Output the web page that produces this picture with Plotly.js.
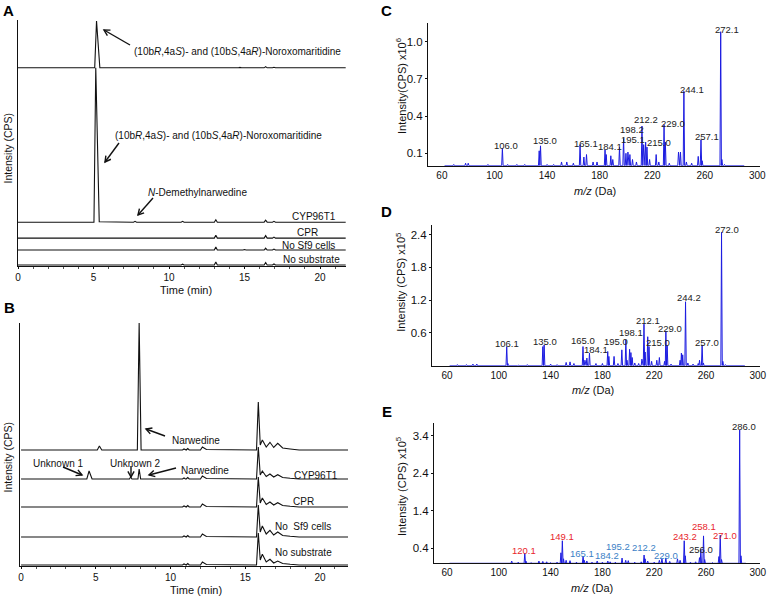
<!DOCTYPE html>
<html><head><meta charset="utf-8">
<script src="https://cdn.plot.ly/plotly-3.0.1.min.js"></script>
<style>html,body{margin:0;padding:0;background:#fff}#chart{width:767px;height:598px}</style>
</head><body><div id="chart"></div>
<script>
// ---------- Panel A: retention time (min) / relative intensity ----------
const A_std_t   = [0, 5.08, 5.2, 5.42, 14.6, 14.7, 14.8, 16.3, 16.4, 16.5, 16.85, 16.95, 17.05, 21.7];
const A_std_y   = [0, 0, 47, 0, 0, 0.4, 0, 0, 1.2, 0, 0, 0.5, 0, 0];
const A_cyp_t   = [0, 5.03, 5.15, 5.38, 7.65, 7.75, 7.85, 10.8, 10.9, 11.0, 13.0, 13.1, 13.2, 14.9, 15.0, 15.1, 16.3, 16.4, 16.5, 16.85, 16.95, 17.05, 21.7];
const A_cyp_y   = [0, 0, 155, 0.5, 0, 0.8, 0, 0, 0.8, 0, 0, 2.5, 0, 0, 0.4, 0, 0, 2, 0, 0, 0.8, 0, 0];
const A_cpr_t   = [0, 7.0, 7.1, 7.2, 10.8, 10.9, 11.0, 13.0, 13.1, 13.2, 16.3, 16.4, 16.5, 16.85, 16.95, 17.05, 21.7];
const A_cpr_y   = [0, 0, 0.4, 0, 0, 0.6, 0, 0, 3, 0, 0, 2.5, 0, 0, 1, 0, 0];
const A_nosf9_t = [0, 7.65, 7.75, 7.85, 13.0, 13.1, 13.2, 14.9, 15.0, 15.1, 16.3, 16.4, 16.5, 16.85, 16.95, 17.05, 21.7];
const A_nosf9_y = [0, 0, 0.5, 0, 0, 3, 0, 0, 0.5, 0, 0, 2, 0, 0, 1, 0, 0];
const A_nosub_t = [0, 10.8, 10.9, 11.0, 13.0, 13.1, 13.2, 14.9, 15.0, 15.1, 16.3, 16.4, 16.5, 16.85, 16.95, 17.05, 21.7];
const A_nosub_y = [0, 0, 0.8, 0, 0, 3, 0, 0, 0.5, 0, 0, 2.5, 0, 0, 1, 0, 0];

// ---------- Panel B ----------
const B_std_t   = [0, 5.1, 5.24, 5.4, 7.78, 7.9, 8.03, 10.8, 10.9, 11.0, 11.05, 11.15, 11.25, 12.0, 12.13, 12.4, 15.75, 15.87, 16.0, 16.14, 16.4, 16.65, 16.9, 17.17, 17.5, 18.0, 18.6, 21.87];
const B_std_y   = [0, 0, 4, 0, 0, 127, 0, 0, 1, 0, 0, 1.5, 0, 0, 3, 0.5, 0, 48, 5, 10, 3, 7.7, 2.5, 6.7, 2, 1, 0, 0];
const B_cyp_t   = [0, 4.4, 4.55, 4.75, 7.25, 7.33, 7.42, 7.82, 7.9, 8.0, 10.8, 10.9, 11.0, 11.05, 11.15, 11.25, 12.0, 12.13, 12.4, 15.75, 15.87, 16.0, 16.14, 16.4, 16.65, 16.9, 17.17, 17.5, 18.0, 18.6, 21.87];
const B_cyp_y   = [0, 0, 8, 0, 0, 2, 0, 0, 10, 0, 0, 1, 0, 0, 1.5, 0, 0, 3, 0.5, 0, 32, 4, 8, 2.5, 5, 2, 4.3, 1.5, 0.7, 0, 0];
const B_cpr_t   = [0, 10.8, 10.9, 11.0, 11.05, 11.15, 11.25, 12.0, 12.13, 12.4, 15.75, 15.87, 16.0, 16.14, 16.4, 16.65, 16.9, 17.17, 17.5, 18.0, 18.6, 21.87];
const B_cpr_y   = [0, 0, 1, 0, 0, 1.5, 0, 0, 3, 0.5, 0, 30, 4, 9, 2.5, 5, 2, 4.3, 1.5, 0.7, 0, 0];
const B_nosf9_t = [0, 10.8, 10.9, 11.0, 11.05, 11.15, 11.25, 12.0, 12.13, 12.4, 15.75, 15.87, 16.0, 16.14, 16.4, 16.65, 16.9, 17.17, 17.5, 18.0, 18.6, 21.87];
const B_nosf9_y = [0, 0, 1, 0, 0, 1.5, 0, 0, 3, 0.5, 0, 32, 5, 11, 3, 6.7, 2, 5, 1.5, 0.7, 0, 0];
const B_nosub_t = [0, 10.8, 10.9, 11.0, 11.05, 11.15, 11.25, 12.0, 12.13, 12.4, 15.75, 15.87, 16.0, 16.14, 16.4, 16.65, 16.9, 17.17, 17.5, 18.0, 18.6, 21.87];
const B_nosub_y = [0, 0, 1, 0, 0, 1.5, 0, 0, 3, 0.5, 0, 32, 5, 10.7, 3, 5.7, 2, 4, 1.5, 0.7, 0, 0];

// ---------- Panel C: MS/MS (x10^6) ----------
const C_mz  = [69, 78, 80, 95, 106.0, 110, 117, 123, 134, 135.0, 140, 145, 151, 155, 160, 165.1, 168, 170, 175, 178, 184.1, 185, 188.5, 190, 195.1, 198.2, 200, 201.5, 203, 205, 208, 212.2, 213.5, 215.0, 216, 218, 223, 225, 229.0, 230, 233, 240, 241.5, 244.1, 246, 250, 255, 257.1, 258, 272.1, 273, 275];
const C_int = [0.01, 0.02, 0.02, 0.01, 0.14, 0.01, 0.01, 0.01, 0.12, 0.16, 0.01, 0.01, 0.03, 0.03, 0.02, 0.17, 0.07, 0.09, 0.03, 0.03, 0.13, 0.09, 0.08, 0.05, 0.15, 0.22, 0.1, 0.11, 0.09, 0.05, 0.03, 0.32, 0.17, 0.19, 0.15, 0.05, 0.09, 0.03, 0.33, 0.19, 0.02, 0.11, 0.11, 0.60, 0.03, 0.02, 0.075, 0.21, 0.04, 1.08, 0.05, 0.01];
const C_labels = ['106.0', '135.0', '165.1', '184.1', '195.1', '198.2', '212.2', '215.0', '229.0', '244.1', '257.1', '272.1'];

// ---------- Panel D (x10^5) ----------
const D_mz  = [68, 75, 80, 83, 95, 106.1, 107, 115, 122, 134, 135.0, 140, 145, 152, 155, 158, 165.0, 166.5, 168, 170, 175, 180, 184.1, 185, 189, 192, 195.0, 198.1, 199, 201, 202, 203, 205, 208, 210.5, 212.1, 213, 215.0, 216, 218, 222, 224, 228, 229.0, 230, 233, 240, 241, 242, 244.2, 246, 250, 254, 255, 257.0, 258, 272.0, 273, 275];
const D_int = [0.02, 0.02, 0.03, 0.03, 0.01, 0.35, 0.04, 0.01, 0.02, 0.35, 0.38, 0.03, 0.02, 0.06, 0.07, 0.04, 0.35, 0.1, 0.14, 0.23, 0.04, 0.04, 0.26, 0.17, 0.17, 0.04, 0.29, 0.47, 0.1, 0.3, 0.24, 0.15, 0.05, 0.04, 0.12, 0.76, 0.25, 0.53, 0.35, 0.08, 0.1, 0.15, 0.08, 0.63, 0.37, 0.03, 0.1, 0.23, 0.2, 1.17, 0.05, 0.03, 0.04, 0.1, 0.38, 0.05, 2.44, 0.08, 0.02];
const D_labels = ['106.1', '135.0', '165.0', '184.1', '195.0', '198.1', '212.1', '215.0', '229.0', '244.2', '257.0', '272.0'];

// ---------- Panel E (x10^5) ----------
const E_mz  = [70, 85, 100, 110, 115, 120.1, 121, 125, 131, 134, 137, 140, 145, 148, 149.1, 150, 152, 155, 160, 165.1, 166, 168, 172, 176, 180, 184.2, 186, 190, 195.2, 198, 200, 205, 210, 212.2, 213, 215, 220, 224, 226, 229.0, 232, 238, 240, 243.2, 244, 248, 252, 255, 256.0, 258.1, 259, 265, 270, 271.0, 272, 286.0, 287, 290];
const E_int = [0.01, 0.02, 0.02, 0.06, 0.03, 0.27, 0.06, 0.02, 0.06, 0.05, 0.04, 0.02, 0.03, 0.28, 0.6, 0.12, 0.08, 0.07, 0.03, 0.19, 0.08, 0.06, 0.03, 0.06, 0.03, 0.06, 0.04, 0.03, 0.14, 0.08, 0.07, 0.03, 0.04, 0.22, 0.12, 0.06, 0.03, 0.08, 0.12, 0.14, 0.05, 0.12, 0.08, 0.6, 0.2, 0.03, 0.04, 0.15, 0.37, 0.73, 0.1, 0.02, 0.18, 0.75, 0.1, 3.55, 0.2, 0.02];
const E_labels = ['120.1', '149.1', '165.1', '184.2', '195.2', '212.2', '229.0', '243.2', '256.0', '258.1', '271.0', '286.0'];
const E_label_group = ['frag', 'frag', 'shared', 'shared', 'shared', 'shared', 'shared', 'frag', 'other', 'frag', 'frag', 'other'];

// shared tick labels
const mzTicks = [60, 100, 140, 180, 220, 260, 300];
const timeTicks = [0, 5, 10, 15, 20];

// ================= drawing =================
const W = 767, H = 598;
const FONT = 'Liberation Sans, Arial, Helvetica, sans-serif';
const px = x => x / W;
const py = y => 1 - y / H;
const BLK = '#111111';
const SPEC = '#1c1ce0';

function chrom(t, y, off, xa, ya) {
  return {x: t, y: y.map(v => v + off), xaxis: xa, yaxis: ya, type: 'scatter', mode: 'lines',
          line: {color: BLK, width: 1.1}, hoverinfo: 'skip', showlegend: false};
}
function spectrum(mz, inten, xa, ya) {
  const idx = mz.map((m, i) => i).sort((a, b) => mz[a] - mz[b]);
  const xs = [62], ys = [0];
  const hw = 0.55;
  idx.forEach(i => { xs.push(mz[i] - hw, mz[i], mz[i] + hw); ys.push(0, inten[i], 0); });
  xs.push(290); ys.push(0);
  return {x: xs, y: ys, xaxis: xa, yaxis: ya, type: 'scatter', mode: 'lines',
          line: {color: SPEC, width: 1}, hoverinfo: 'skip', showlegend: false};
}

const A_off = [199, 44, 28, 16, 1];
const B_off = [116, 87, 59, 29, 1];

const data = [
  chrom(A_std_t, A_std_y, A_off[0], 'x', 'y'),
  chrom(A_cyp_t, A_cyp_y, A_off[1], 'x', 'y'),
  chrom(A_cpr_t, A_cpr_y, A_off[2], 'x', 'y'),
  chrom(A_nosf9_t, A_nosf9_y, A_off[3], 'x', 'y'),
  chrom(A_nosub_t, A_nosub_y, A_off[4], 'x', 'y'),
  chrom(B_std_t, B_std_y, B_off[0], 'x2', 'y2'),
  chrom(B_cyp_t, B_cyp_y, B_off[1], 'x2', 'y2'),
  chrom(B_cpr_t, B_cpr_y, B_off[2], 'x2', 'y2'),
  chrom(B_nosf9_t, B_nosf9_y, B_off[3], 'x2', 'y2'),
  chrom(B_nosub_t, B_nosub_y, B_off[4], 'x2', 'y2'),
  spectrum(C_mz, C_int, 'x3', 'y3'),
  spectrum(D_mz, D_int, 'x4', 'y4'),
  spectrum(E_mz, E_int, 'x5', 'y5')
];

const baseAx = {showgrid: false, zeroline: false, showline: true, linecolor: BLK, linewidth: 1,
                ticks: 'outside', tickcolor: BLK, ticklen: 2, fixedrange: true, ticklabeloverflow: 'allow',
                tickfont: {family: FONT, size: 10, color: BLK}};
function chromX(dom, rng, anchor) {
  return Object.assign({}, baseAx, {domain: dom, range: rng, anchor: anchor,
    tickmode: 'array', tickvals: timeTicks,
    minor: {tickmode: 'linear', tick0: 0, dtick: 1, ticks: 'outside', ticklen: 2, tickcolor: '#555'}});
}
function chromY(dom, rng, anchor) {
  return Object.assign({}, baseAx, {domain: dom, range: rng, anchor: anchor, ticks: '', showticklabels: false});
}
function specX(dom, rng, anchor, vals) {
  return Object.assign({}, baseAx, {domain: dom, range: rng, anchor: anchor,
    tickmode: 'array', tickvals: vals, ticks: ''});
}
function specY(dom, rng, anchor, vals) {
  return Object.assign({}, baseAx, {domain: dom, range: rng, anchor: anchor, tickmode: 'array',
    tickvals: vals, ticktext: vals.map(v => v.toFixed(1)), ticklen: 2,
    tickfont: {family: FONT, size: 11.5, color: BLK}});
}

const ann = [];
const shapes = [];
function txt(t, x, y, opts) {
  ann.push(Object.assign({xref: 'paper', yref: 'paper', x: px(x), y: py(y), text: t, showarrow: false,
    xanchor: 'center', yanchor: 'middle', font: {family: FONT, size: 10, color: BLK}}, opts || {}));
}
// arrow drawn as a line plus an open V head (pixel geometry converted to paper units)
function arrow(hx, hy, tx, ty) {
  const dx = tx - hx, dy = ty - hy, L = Math.hypot(dx, dy);
  const ux = dx / L, uy = dy / L, arm = 6.5, a = 0.5;
  const r1 = [ux * Math.cos(a) - uy * Math.sin(a), ux * Math.sin(a) + uy * Math.cos(a)];
  const r2 = [ux * Math.cos(-a) - uy * Math.sin(-a), ux * Math.sin(-a) + uy * Math.cos(-a)];
  const p1 = [hx + arm * r1[0], hy + arm * r1[1]], p2 = [hx + arm * r2[0], hy + arm * r2[1]];
  shapes.push({type: 'line', xref: 'paper', yref: 'paper', x0: px(tx), y0: py(ty), x1: px(hx), y1: py(hy),
               line: {color: BLK, width: 1.4}});
  shapes.push({type: 'path', xref: 'paper', yref: 'paper',
               path: 'M' + px(p1[0]) + ',' + py(p1[1]) + ' L' + px(hx) + ',' + py(hy) + ' L' + px(p2[0]) + ',' + py(p2[1]),
               line: {color: BLK, width: 1.4}});
}

// panel letters
[['A', 8, 11], ['B', 9, 307], ['C', 387, 11], ['D', 387, 211], ['E', 387, 411]].forEach(p =>
  txt('<b>' + p[0] + '</b>', p[1], p[2], {font: {family: FONT, size: 15, color: '#000'}}));

// panel A texts
txt('(10b<i>R</i>,4a<i>S</i>)- and (10b<i>S</i>,4a<i>R</i>)-Noroxomaritidine', 237.5, 51.7);
txt('(10b<i>R</i>,4a<i>S</i>)- and (10b<i>S</i>,4a<i>R</i>)-Noroxomaritidine', 218, 136);
txt('<i>N</i>-Demethylnarwedine', 197.5, 192.7);
txt('CYP96T1', 313.7, 216.7);
txt('CPR', 307, 232.3);
txt('No Sf9 cells', 308, 245.3);
txt('No substrate', 311, 259);
arrow(104, 30, 130, 45);
arrow(105, 162, 119, 143);
arrow(138, 215, 153, 198);
txt('Time (min)', 186, 289.5, {font: {family: FONT, size: 11, color: BLK}});
txt('Intensity (CPS)', 7.5, 148, {textangle: -90, font: {family: FONT, size: 10.5, color: BLK}});

// panel B texts
txt('Narwedine', 196, 440.7);
txt('Unknown 1', 57.5, 463.3);
txt('Unknown 2', 134.5, 463.3);
txt('Narwedine', 205, 470);
txt('CYP96T1', 316, 475.7);
txt('CPR', 303.7, 501);
txt('No\u00a0\u00a0Sf9 cells', 303, 526.7);
txt('No substrate', 303, 552.7);
arrow(146, 429, 165, 436);
arrow(82, 475, 63, 467);
arrow(131, 477, 131, 466);
arrow(149, 475, 176, 468);
txt('Time (min)', 196, 590, {font: {family: FONT, size: 11, color: BLK}});
txt('Intensity (CPS)', 7.5, 457, {textangle: -90, font: {family: FONT, size: 10.5, color: BLK}});

// spectra axis titles
const mzTitle = '<i>m/z</i> (Da)';
txt(mzTitle, 595, 191, {font: {family: FONT, size: 11, color: BLK}});
txt(mzTitle, 593, 390, {font: {family: FONT, size: 11, color: BLK}});
txt(mzTitle, 592, 588, {font: {family: FONT, size: 11, color: BLK}});
txt('Intensity(CPS) x10<sup>6</sup>', 401, 86, {textangle: -90, font: {family: FONT, size: 11, color: BLK}});
txt('Intensity (CPS) x10<sup>5</sup>', 400.7, 282, {textangle: -90, font: {family: FONT, size: 11, color: BLK}});
txt('Intensity (CPS) x10<sup>5</sup>', 401, 487, {textangle: -90, font: {family: FONT, size: 11, color: BLK}});

// last m/z tick label of panel C, placed on the C axis at its data value
const lastTick = mzTicks[mzTicks.length - 1];
ann.push({xref: 'x3', yref: 'paper', x: lastTick, y: py(175.4), text: String(lastTick), showarrow: false,
          xanchor: 'center', yanchor: 'middle', font: {family: FONT, size: 10, color: BLK}});

// spectra peak labels (label text from data, placement from picture)
const C_pos = [[506, 145.7], [545, 141], [585.7, 143.3], [610, 146.7], [633.3, 139.8], [632.3, 129.5], [646, 119.3], [659, 142.7], [672.7, 123.3], [691.7, 89.3], [707.3, 136.7], [727, 29.3]];
const D_pos = [[506.7, 344], [545, 341.7], [582.5, 340.7], [596, 349.5], [616.2, 341.2], [631, 332], [647.7, 320.7], [658, 342.7], [670.3, 328], [689.3, 297.7], [707.3, 342.7], [726.7, 229]];
const E_pos = [[524, 550], [561.7, 536.7], [582.3, 553.3], [607.3, 555], [618, 546], [643.7, 547.7], [666, 555], [684.7, 536], [701.3, 549], [703.7, 526.7], [724.7, 535], [744.3, 426]];
const grpColor = {frag: '#e8262c', shared: '#3b7fc6', other: '#222222'};
C_labels.forEach((l, i) => txt(l, C_pos[i][0], C_pos[i][1], {font: {family: FONT, size: 9.5, color: '#222'}}));
D_labels.forEach((l, i) => txt(l, D_pos[i][0], D_pos[i][1], {font: {family: FONT, size: 9.5, color: '#222'}}));
E_labels.forEach((l, i) => txt(l, E_pos[i][0], E_pos[i][1], {font: {family: FONT, size: 9.5, color: grpColor[E_label_group[i]]}}));

const layout = {
  width: W, height: H, margin: {l: 0, r: 0, t: 0, b: 0},
  paper_bgcolor: '#fff', plot_bgcolor: 'rgba(0,0,0,0)', showlegend: false,
  font: {family: FONT, color: BLK},
  xaxis:  chromX([px(18), px(346)], [0, 21.72], 'y'),
  yaxis:  chromY([py(266), py(20)], [0, 247], 'x'),
  xaxis2: chromX([px(20), px(348)], [-0.07, 21.87], 'y2'),
  yaxis2: chromY([py(566), py(323)], [0, 243], 'x2'),
  xaxis3: specX([px(428), px(760)], [49.4, 302], 'y3', mzTicks.slice(0, -1)),
  yaxis3: specY([py(165.7), py(23.3)], [0, 1.148], 'x3', [0.1, 0.4, 0.7, 1.0]),
  xaxis4: specX([px(432), px(760)], [48.4, 301.7], 'y4', mzTicks),
  yaxis4: specY([py(365.7), py(225)], [0, 2.574], 'x4', [0.6, 1.2, 1.8, 2.4]),
  xaxis5: specX([px(434), px(760)], [50, 301.7], 'y5', mzTicks),
  yaxis5: specY([py(563.3), py(423.3)], [0, 3.73], 'x5', [0.4, 1.4, 2.4, 3.4]),
  annotations: ann,
  shapes: shapes
};

Plotly.newPlot('chart', data, layout, {staticPlot: true, displayModeBar: false});
</script>
</body></html>
